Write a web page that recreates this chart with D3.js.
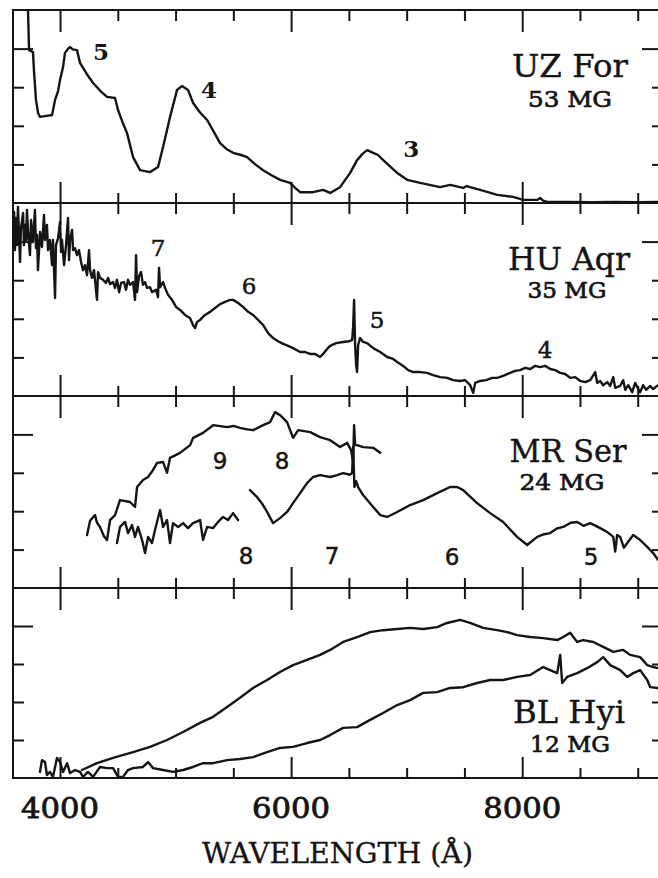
<!DOCTYPE html>
<html>
<head>
<meta charset="utf-8">
<script src="https://cdn.jsdelivr.net/npm/d3@7"></script>
<style>
  html, body { margin: 0; padding: 0; background: #fff; }
  svg { display: block; }
</style>
</head>
<body>
<svg id="chart" width="658" height="878"></svg>
<script>
// ---- Data: wavelength (Å) and relative flux (one unit per tick) ----
const starNames = ["UZ For", "HU Aqr", "MR Ser", "BL Hyi"];
const fieldLabels = ["53 MG", "35 MG", "24 MG", "12 MG"];
const xMajorTicks = [4000, 6000, 8000];
const xMinorTicks = [4500, 5000, 5500, 6500, 7000, 7500, 8500, 9000];
const yMajorTicks = [4];
const yMinorTicks = [1, 2, 3];

const uzFor = [[3722,5.1],[3732,3.96],[3766,3.91],[3775,3.40],[3792,2.67],[3810,2.33],[3827,2.23],[3870,2.25],[3931,2.28],[3957,2.67],[3983,2.90],[4000,3.19],[4026,3.52],[4043,3.89],[4070,4.00],[4087,4.04],[4110,3.98],[4147,3.96],[4173,3.63],[4230,3.35],[4286,3.11],[4350,2.90],[4407,2.75],[4476,2.72],[4502,2.41],[4540,2.10],[4580,1.81],[4632,1.19],[4693,0.85],[4779,0.80],[4848,0.93],[4892,1.45],[4952,2.23],[5013,2.93],[5056,3.03],[5108,2.93],[5152,2.59],[5210,2.35],[5273,2.15],[5330,1.85],[5385,1.55],[5440,1.40],[5498,1.30],[5560,1.25],[5619,1.19],[5690,1.00],[5758,0.85],[5830,0.72],[5905,0.60],[5991,0.52],[6040,0.38],[6078,0.28],[6190,0.28],[6277,0.34],[6338,0.26],[6424,0.41],[6511,0.78],[6571,1.11],[6620,1.28],[6658,1.37],[6710,1.30],[6750,1.25],[6797,1.11],[6918,0.78],[7004,0.60],[7117,0.52],[7290,0.41],[7377,0.47],[7489,0.39],[7520,0.44],[7550,0.41],[7636,0.34],[7784,0.21],[7922,0.16],[8009,0.08],[8130,0.08],[8156,0.13],[8180,0.06],[8217,0.03],[8400,0.03],[8600,0.02],[8800,0.03],[9000,0.02],[9210,0.03]];

const huAqr = [[3593,4.04],[3602,4.77],[3610,3.78],[3619,4.61],[3628,3.91],[3636,4.90],[3645,4.17],[3654,3.47],[3662,4.35],[3680,4.74],[3688,3.91],[3697,4.43],[3706,4.04],[3714,4.82],[3723,4.25],[3740,3.65],[3749,4.56],[3766,3.99],[3783,4.82],[3792,3.83],[3801,4.17],[3809,3.26],[3827,4.25],[3844,3.86],[3861,4.69],[3870,4.04],[3887,4.43],[3896,3.78],[3913,4.04],[3931,3.39],[3939,4.04],[3957,2.54],[3965,3.91],[3983,4.09],[4000,4.51],[4009,3.73],[4017,4.04],[4035,3.39],[4052,3.91],[4069,4.61],[4078,3.52],[4087,4.04],[4104,4.30],[4113,3.78],[4130,3.83],[4147,3.65],[4164,3.78],[4182,3.47],[4199,3.26],[4216,3.39],[4234,3.13],[4251,3.78],[4260,3.26],[4277,3.06],[4294,3.26],[4320,2.49],[4329,3.21],[4346,3.06],[4372,3.01],[4398,2.93],[4416,3.06],[4433,2.90],[4459,2.95],[4476,2.80],[4493,3.01],[4511,2.69],[4528,2.93],[4554,2.95],[4571,2.75],[4589,3.01],[4606,2.88],[4632,2.95],[4649,2.49],[4658,3.65],[4667,2.69],[4684,3.11],[4701,3.21],[4718,2.88],[4736,2.95],[4753,2.80],[4779,2.82],[4796,2.69],[4831,2.75],[4848,2.56],[4857,3.32],[4866,2.82],[4892,2.95],[4909,2.80],[4935,2.62],[4970,2.49],[5004,2.31],[5039,2.23],[5082,2.10],[5125,2.02],[5151,1.84],[5169,1.76],[5186,1.92],[5212,1.97],[5255,2.10],[5299,2.18],[5342,2.28],[5385,2.38],[5428,2.44],[5472,2.49],[5498,2.49],[5541,2.41],[5584,2.31],[5628,2.18],[5671,2.10],[5714,1.97],[5757,1.84],[5801,1.63],[5844,1.50],[5887,1.42],[5931,1.35],[5974,1.30],[6017,1.24],[6078,1.14],[6121,1.14],[6164,1.09],[6208,1.09],[6251,1.01],[6277,1.09],[6312,1.22],[6338,1.30],[6390,1.37],[6450,1.40],[6502,1.42],[6528,1.45],[6537,1.79],[6545,2.49],[6554,1.32],[6563,0.80],[6571,0.62],[6580,1.32],[6597,1.50],[6623,1.40],[6658,1.37],[6710,1.24],[6771,1.14],[6831,1.01],[6883,0.96],[6918,0.88],[6970,0.78],[7013,0.67],[7056,0.62],[7117,0.62],[7177,0.60],[7229,0.54],[7290,0.49],[7351,0.47],[7402,0.41],[7463,0.39],[7506,0.41],[7550,0.28],[7576,0.08],[7593,0.34],[7636,0.39],[7688,0.41],[7740,0.47],[7784,0.47],[7835,0.52],[7896,0.60],[7939,0.65],[7982,0.67],[8026,0.73],[8069,0.70],[8112,0.78],[8156,0.75],[8199,0.78],[8242,0.70],[8286,0.67],[8329,0.60],[8372,0.57],[8416,0.47],[8459,0.49],[8502,0.39],[8545,0.36],[8589,0.41],[8632,0.62],[8649,0.34],[8675,0.39],[8701,0.28],[8736,0.36],[8762,0.26],[8788,0.49],[8805,0.21],[8848,0.26],[8874,0.41],[8892,0.16],[8918,0.28],[8952,0.10],[8978,0.34],[9004,0.18],[9021,0.10],[9047,0.28],[9073,0.16],[9108,0.26],[9134,0.18],[9177,0.28],[9210,0.25]];

// MR Ser: two observations, the fainter one split by a gap near 5600 Å
const mrSerHigh = [[4234,1.38],[4260,1.75],[4303,1.90],[4320,1.70],[4346,1.59],[4380,1.35],[4407,1.25],[4433,1.77],[4476,1.90],[4519,2.29],[4606,2.24],[4649,2.11],[4667,2.63],[4718,2.81],[4762,2.89],[4800,3.05],[4840,3.26],[4892,3.28],[4926,3.00],[4952,3.39],[5039,3.52],[5126,3.72],[5152,3.91],[5238,4.04],[5325,4.24],[5446,4.19],[5500,4.22],[5558,4.17],[5620,4.13],[5671,4.11],[5758,4.24],[5818,4.32],[5861,4.58],[5905,4.50],[5965,4.32],[6017,3.91],[6061,4.11],[6165,4.06],[6251,3.93],[6338,3.85],[6424,3.67],[6485,3.78],[6519,3.59],[6537,3.28],[6545,4.24],[6554,3.72],[6571,3.72],[6623,3.67],[6710,3.65],[6771,3.52]];
const mrSerLowBlue = [[4493,1.17],[4519,1.59],[4563,1.72],[4589,1.43],[4623,1.64],[4649,1.33],[4675,1.59],[4710,1.25],[4736,0.91],[4762,1.33],[4796,1.17],[4822,1.51],[4866,2.03],[4892,1.59],[4926,1.77],[4952,1.17],[4978,1.69],[5022,1.59],[5065,1.69],[5108,1.56],[5151,1.69],[5212,1.77],[5238,1.25],[5273,1.59],[5325,1.56],[5368,1.72],[5411,1.85],[5454,1.77],[5498,1.95],[5541,1.77]];
const mrSerLowRed = [[5644,2.55],[5705,2.37],[5757,2.16],[5792,1.98],[5844,1.69],[5904,1.82],[5965,1.98],[6017,2.21],[6078,2.47],[6138,2.73],[6190,2.89],[6251,2.94],[6338,2.89],[6398,2.94],[6450,2.99],[6510,2.95],[6528,3.00],[6537,3.67],[6548,2.63],[6563,2.78],[6580,2.63],[6623,2.42],[6710,2.11],[6771,1.90],[6831,1.85],[6918,1.98],[7030,2.16],[7143,2.29],[7264,2.47],[7376,2.63],[7437,2.63],[7489,2.55],[7610,2.21],[7723,1.95],[7835,1.72],[7956,1.33],[8043,1.12],[8130,1.33],[8190,1.40],[8242,1.43],[8300,1.55],[8355,1.59],[8420,1.70],[8476,1.72],[8530,1.62],[8589,1.69],[8675,1.56],[8740,1.45],[8788,1.33],[8805,0.95],[8822,1.38],[8848,1.33],[8880,1.05],[8909,1.17],[8961,1.38],[9021,1.25],[9082,1.07],[9134,0.91],[9177,0.73],[9210,0.70]];

const blHyiHigh = [[4190,0.21],[4320,0.39],[4459,0.53],[4632,0.68],[4779,0.82],[4926,1.00],[5065,1.21],[5212,1.45],[5325,1.61],[5446,1.87],[5558,2.11],[5671,2.37],[5792,2.58],[5904,2.79],[6017,2.97],[6138,3.11],[6251,3.24],[6338,3.37],[6450,3.58],[6571,3.71],[6684,3.84],[6796,3.89],[6918,3.92],[7030,3.95],[7143,3.92],[7264,3.97],[7350,4.08],[7463,4.16],[7549,4.08],[7662,3.95],[7783,3.89],[7870,3.84],[7956,3.76],[8069,3.71],[8181,3.68],[8303,3.63],[8355,3.71],[8415,3.82],[8476,3.58],[8528,3.63],[8615,3.58],[8701,3.45],[8788,3.32],[8874,3.37],[8935,3.24],[9021,3.18],[9082,2.97],[9134,2.92],[9177,2.89],[9210,2.85]];
const blHyiLow = [[3826,0.16],[3844,0.47],[3870,0.42],[3887,0.08],[3913,0.16],[3939,0.03],[3974,0.53],[4000,0.42],[4026,0.16],[4061,0.39],[4087,0.13],[4130,0.21],[4173,0.16],[4199,0.03],[4242,0.16],[4286,0.03],[4346,0.29],[4407,0.26],[4459,0.26],[4502,0.03],[4545,0.03],[4588,0.21],[4632,0.26],[4718,0.29],[4762,0.42],[4805,0.26],[4892,0.21],[4978,0.16],[5065,0.21],[5151,0.29],[5238,0.39],[5325,0.39],[5446,0.47],[5558,0.50],[5671,0.55],[5792,0.68],[5904,0.79],[6017,0.82],[6138,0.92],[6251,1.00],[6338,1.13],[6450,1.32],[6571,1.34],[6684,1.53],[6796,1.71],[6918,1.92],[7030,2.05],[7143,2.24],[7264,2.26],[7376,2.37],[7489,2.39],[7610,2.50],[7723,2.58],[7835,2.58],[7956,2.66],[8069,2.71],[8181,2.92],[8242,2.84],[8303,2.76],[8329,3.24],[8346,2.50],[8389,2.66],[8476,2.76],[8562,2.89],[8649,3.05],[8701,3.18],[8762,2.97],[8848,2.84],[8909,2.66],[8961,2.76],[9021,2.84],[9082,2.58],[9108,2.39],[9177,2.37],[9210,2.35]];

const panelSpectra = [[uzFor], [huAqr], [mrSerHigh, mrSerLowBlue, mrSerLowRed], [blHyiHigh, blHyiLow]];

// Cyclotron harmonic numbers: [wavelength, flux, label]
const harmonicsUZ = [[4354,3.91,"5"],[5290,2.93,"4"],[7039,1.40,"3"]];
const harmonicsHU = [[4848,3.83,"7"],[5636,2.85,"6"],[6744,1.97,"5"],[8199,1.19,"4"]];
const harmonicsMR = [[5385,3.31,"9"],[5922,3.31,"8"],[5610,0.83,"8"],[6355,0.83,"7"],[7394,0.81,"6"],[8597,0.81,"5"]];
const harmonicsBL = [];
const panelHarmonics = [harmonicsUZ, harmonicsHU, harmonicsMR, harmonicsBL];

// ---- Layout ----
const frameLeft = 13, frameRight = 662;
const panelTops = [10, 203, 396, 588];
const panelBottoms = [203, 396, 588, 778];
const serif = "'DejaVu Serif', 'Liberation Serif', serif";
const ink = "#151515";

const svg = d3.select("#chart");
const x = d3.scaleLinear().domain([3593, 9210]).range([frameLeft, frameRight]);

const line = d3.line().x(d => x(d[0]));

panelTops.forEach((top, i) => {
  const bottom = panelBottoms[i];
  const y = d3.scaleLinear().domain([0, 5]).range([bottom, top]);
  const g = svg.append("g").attr("class", "panel");

  g.append("clipPath").attr("id", "clip" + i)
    .append("rect").attr("x", frameLeft).attr("y", top)
    .attr("width", frameRight - frameLeft).attr("height", bottom - top);

  // spectra
  g.append("g").attr("clip-path", `url(#clip${i})`)
    .selectAll("path").data(panelSpectra[i]).join("path")
    .attr("d", d => line.y(p => y(p[1]))(d))
    .attr("fill", "none").attr("stroke", ink).attr("stroke-width", 2.4)
    .attr("stroke-linejoin", "round").attr("stroke-linecap", "round");

  // inward ticks on all four sides
  const tickAxes = [
    [d3.axisBottom(x).tickValues(xMinorTicks).tickSize(-10), `translate(0,${bottom})`],
    [d3.axisBottom(x).tickValues(xMajorTicks).tickSize(-21), `translate(0,${bottom})`],
    [d3.axisTop(x).tickValues(xMinorTicks).tickSize(-11), `translate(0,${top})`],
    [d3.axisTop(x).tickValues(xMajorTicks).tickSize(-22), `translate(0,${top})`],
    [d3.axisLeft(y).tickValues(yMinorTicks).tickSize(-11), `translate(${frameLeft},0)`],
    [d3.axisLeft(y).tickValues(yMajorTicks).tickSize(-20), `translate(${frameLeft},0)`],
    [d3.axisRight(y).tickValues(yMinorTicks).tickSize(-10), `translate(${frameRight},0)`],
    [d3.axisRight(y).tickValues(yMajorTicks).tickSize(-20), `translate(${frameRight},0)`]
  ];
  tickAxes.forEach(([axis, tr]) => {
    const a = g.append("g").attr("transform", tr).call(axis.tickFormat(""));
    a.select(".domain").remove();
    a.selectAll("line").attr("stroke", ink).attr("stroke-width", 2);
  });

  // frame
  g.append("rect").attr("x", frameLeft).attr("y", top)
    .attr("width", frameRight - frameLeft).attr("height", bottom - top)
    .attr("fill", "none").attr("stroke", ink).attr("stroke-width", 2);

  // harmonic labels
  g.selectAll("text.harm").data(panelHarmonics[i]).join("text")
    .attr("class", "harm")
    .attr("x", d => x(d[0])).attr("y", d => y(d[1]))
    .attr("dy", "0.36em").attr("text-anchor", "middle")
    .attr("font-family", i === 2 ? "'DejaVu Sans', sans-serif" : serif)
    .attr("font-weight", i === 0 ? "bold" : "normal")
    .attr("font-size", 23).attr("fill", ink)
    .attr("stroke", ink).attr("stroke-width", i === 0 ? 0 : 0.5)
    .text(d => d[2]);
});

// star names and field strengths
const namePos = [[570, 77, 116], [569, 270, 122], [568, 462, 117], [569, 723, 112]];
const fieldPos = [[570, 107, 84], [567, 298, 79], [562, 490, 85], [570, 752, 80]];
svg.selectAll("text.name").data(starNames).join("text")
  .attr("class", "name")
  .attr("x", (d, i) => namePos[i][0]).attr("y", (d, i) => namePos[i][1])
  .attr("text-anchor", "middle").attr("font-family", serif).attr("font-size", 32)
  .attr("textLength", (d, i) => namePos[i][2]).attr("lengthAdjust", "spacingAndGlyphs")
  .attr("fill", ink).attr("stroke", ink).attr("stroke-width", 0.4).text(d => d);
svg.selectAll("text.field").data(fieldLabels).join("text")
  .attr("class", "field")
  .attr("x", (d, i) => fieldPos[i][0]).attr("y", (d, i) => fieldPos[i][1])
  .attr("text-anchor", "middle").attr("font-family", serif).attr("font-size", 23)
  .attr("textLength", (d, i) => fieldPos[i][2]).attr("lengthAdjust", "spacingAndGlyphs")
  .attr("fill", ink).attr("stroke", ink).attr("stroke-width", 0.7).text(d => d);

// wavelength labels
svg.selectAll("text.xlab").data(xMajorTicks).join("text")
  .attr("class", "xlab")
  .attr("x", d => x(d)).attr("y", 818)
  .attr("text-anchor", "middle").attr("font-family", serif).attr("font-size", 28)
  .attr("textLength", 78).attr("lengthAdjust", "spacingAndGlyphs")
  .attr("fill", ink).attr("stroke", ink).attr("stroke-width", 0.8).text(d => d);

svg.append("text")
  .attr("x", (202 + 473) / 2).attr("y", 863)
  .attr("text-anchor", "middle").attr("font-family", serif).attr("font-size", 27)
  .attr("textLength", 271).attr("lengthAdjust", "spacingAndGlyphs")
  .attr("fill", ink).attr("stroke", ink).attr("stroke-width", 0.3).text("WAVELENGTH (Å)");
</script>
</body>
</html>
